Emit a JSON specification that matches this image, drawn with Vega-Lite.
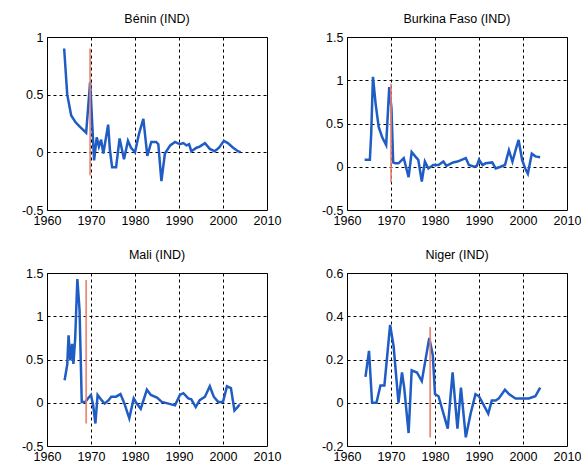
{
  "$schema": "https://vega.github.io/schema/vega-lite/v6.json",
  "background": "white",
  "padding": {"left": 20, "top": 12, "right": 5, "bottom": 5},
  "columns": 2,
  "spacing": {"row": 63, "column": 80},
  "bounds": "flush",
  "datasets": {
    "series": [
      {"country":"BEN","year":1963.9,"value":0.90},{"country":"BEN","year":1964.6,"value":0.50},{"country":"BEN","year":1965.5,"value":0.32},{"country":"BEN","year":1966.5,"value":0.26},{"country":"BEN","year":1967.5,"value":0.22},{"country":"BEN","year":1968.9,"value":0.17},{"country":"BEN","year":1969.8,"value":0.61},{"country":"BEN","year":1970.7,"value":-0.07},{"country":"BEN","year":1971.3,"value":0.13},{"country":"BEN","year":1971.8,"value":0.05},{"country":"BEN","year":1972.3,"value":0.11},{"country":"BEN","year":1972.8,"value":-0.01},{"country":"BEN","year":1973.9,"value":0.24},{"country":"BEN","year":1974.3,"value":0.02},{"country":"BEN","year":1974.8,"value":-0.13},{"country":"BEN","year":1975.7,"value":-0.13},{"country":"BEN","year":1976.5,"value":0.12},{"country":"BEN","year":1977.5,"value":-0.06},{"country":"BEN","year":1978.4,"value":0.10},{"country":"BEN","year":1979.1,"value":0.04},{"country":"BEN","year":1980.0,"value":0.00},{"country":"BEN","year":1980.9,"value":0.16},{"country":"BEN","year":1981.9,"value":0.29},{"country":"BEN","year":1982.8,"value":-0.03},{"country":"BEN","year":1983.7,"value":0.09},{"country":"BEN","year":1984.8,"value":0.09},{"country":"BEN","year":1985.3,"value":0.07},{"country":"BEN","year":1986.0,"value":-0.25},{"country":"BEN","year":1986.8,"value":-0.01},{"country":"BEN","year":1988.0,"value":0.06},{"country":"BEN","year":1989.1,"value":0.09},{"country":"BEN","year":1990.2,"value":0.07},{"country":"BEN","year":1991.0,"value":0.08},{"country":"BEN","year":1991.7,"value":0.06},{"country":"BEN","year":1992.3,"value":0.07},{"country":"BEN","year":1992.8,"value":0.01},{"country":"BEN","year":1994.0,"value":0.04},{"country":"BEN","year":1994.7,"value":0.05},{"country":"BEN","year":1995.9,"value":0.08},{"country":"BEN","year":1997.0,"value":0.03},{"country":"BEN","year":1998.1,"value":0.01},{"country":"BEN","year":1999.1,"value":0.04},{"country":"BEN","year":2000.2,"value":0.10},{"country":"BEN","year":2001.1,"value":0.08},{"country":"BEN","year":2002.3,"value":0.04},{"country":"BEN","year":2003.4,"value":0.01},{"country":"BEN","year":2004.0,"value":0.00},
      {"country":"BFA","year":1964.0,"value":0.08},{"country":"BFA","year":1965.2,"value":0.08},{"country":"BFA","year":1965.5,"value":0.38},{"country":"BFA","year":1965.9,"value":1.04},{"country":"BFA","year":1966.5,"value":0.73},{"country":"BFA","year":1967.2,"value":0.46},{"country":"BFA","year":1968.0,"value":0.34},{"country":"BFA","year":1968.9,"value":0.25},{"country":"BFA","year":1969.6,"value":0.92},{"country":"BFA","year":1970.1,"value":0.68},{"country":"BFA","year":1970.5,"value":0.05},{"country":"BFA","year":1971.0,"value":0.04},{"country":"BFA","year":1971.7,"value":0.04},{"country":"BFA","year":1972.9,"value":0.10},{"country":"BFA","year":1973.6,"value":-0.04},{"country":"BFA","year":1974.0,"value":-0.12},{"country":"BFA","year":1974.7,"value":0.17},{"country":"BFA","year":1975.5,"value":0.12},{"country":"BFA","year":1976.2,"value":0.08},{"country":"BFA","year":1977.0,"value":-0.17},{"country":"BFA","year":1977.7,"value":0.06},{"country":"BFA","year":1978.5,"value":-0.02},{"country":"BFA","year":1979.6,"value":0.02},{"country":"BFA","year":1980.8,"value":0.02},{"country":"BFA","year":1981.9,"value":0.06},{"country":"BFA","year":1982.6,"value":0.01},{"country":"BFA","year":1984.1,"value":0.05},{"country":"BFA","year":1985.1,"value":0.06},{"country":"BFA","year":1987.0,"value":0.10},{"country":"BFA","year":1987.7,"value":0.02},{"country":"BFA","year":1988.9,"value":0.00},{"country":"BFA","year":1989.5,"value":0.01},{"country":"BFA","year":1990.0,"value":0.08},{"country":"BFA","year":1990.8,"value":0.02},{"country":"BFA","year":1991.5,"value":0.04},{"country":"BFA","year":1993.0,"value":0.05},{"country":"BFA","year":1993.8,"value":-0.02},{"country":"BFA","year":1994.9,"value":0.00},{"country":"BFA","year":1995.9,"value":0.02},{"country":"BFA","year":1996.8,"value":0.19},{"country":"BFA","year":1997.6,"value":0.06},{"country":"BFA","year":1998.3,"value":0.19},{"country":"BFA","year":1999.0,"value":0.31},{"country":"BFA","year":1999.8,"value":0.08},{"country":"BFA","year":2000.5,"value":-0.02},{"country":"BFA","year":2001.1,"value":-0.08},{"country":"BFA","year":2002.0,"value":0.15},{"country":"BFA","year":2002.8,"value":0.12},{"country":"BFA","year":2003.9,"value":0.11},
      {"country":"MLI","year":1964.0,"value":0.26},{"country":"MLI","year":1964.6,"value":0.44},{"country":"MLI","year":1964.9,"value":0.78},{"country":"MLI","year":1965.3,"value":0.49},{"country":"MLI","year":1965.7,"value":0.68},{"country":"MLI","year":1966.0,"value":0.45},{"country":"MLI","year":1966.4,"value":0.74},{"country":"MLI","year":1966.9,"value":1.43},{"country":"MLI","year":1967.4,"value":1.07},{"country":"MLI","year":1967.9,"value":0.01},{"country":"MLI","year":1968.7,"value":0.01},{"country":"MLI","year":1969.3,"value":0.05},{"country":"MLI","year":1970.0,"value":0.09},{"country":"MLI","year":1970.5,"value":-0.03},{"country":"MLI","year":1971.0,"value":-0.24},{"country":"MLI","year":1971.5,"value":0.09},{"country":"MLI","year":1972.4,"value":0.03},{"country":"MLI","year":1973.1,"value":-0.01},{"country":"MLI","year":1974.0,"value":0.03},{"country":"MLI","year":1974.6,"value":0.07},{"country":"MLI","year":1975.7,"value":0.07},{"country":"MLI","year":1976.7,"value":0.10},{"country":"MLI","year":1977.6,"value":-0.01},{"country":"MLI","year":1978.7,"value":-0.18},{"country":"MLI","year":1979.7,"value":0.05},{"country":"MLI","year":1980.4,"value":-0.01},{"country":"MLI","year":1981.3,"value":-0.07},{"country":"MLI","year":1982.7,"value":0.15},{"country":"MLI","year":1983.6,"value":0.09},{"country":"MLI","year":1985.0,"value":0.06},{"country":"MLI","year":1986.1,"value":0.01},{"country":"MLI","year":1987.6,"value":-0.01},{"country":"MLI","year":1989.1,"value":-0.03},{"country":"MLI","year":1990.2,"value":0.09},{"country":"MLI","year":1991.0,"value":0.11},{"country":"MLI","year":1992.1,"value":0.05},{"country":"MLI","year":1992.8,"value":0.04},{"country":"MLI","year":1993.8,"value":-0.05},{"country":"MLI","year":1994.7,"value":0.03},{"country":"MLI","year":1995.9,"value":0.07},{"country":"MLI","year":1997.0,"value":0.19},{"country":"MLI","year":1997.9,"value":0.07},{"country":"MLI","year":1998.9,"value":0.01},{"country":"MLI","year":2000.0,"value":0.01},{"country":"MLI","year":2000.9,"value":0.19},{"country":"MLI","year":2001.8,"value":0.17},{"country":"MLI","year":2002.6,"value":-0.09},{"country":"MLI","year":2003.3,"value":-0.05},{"country":"MLI","year":2003.8,"value":-0.02},
      {"country":"NER","year":1964.2,"value":0.12},{"country":"NER","year":1965.0,"value":0.24},{"country":"NER","year":1965.7,"value":0.00},{"country":"NER","year":1966.7,"value":0.00},{"country":"NER","year":1967.6,"value":0.08},{"country":"NER","year":1968.5,"value":0.08},{"country":"NER","year":1969.8,"value":0.36},{"country":"NER","year":1970.6,"value":0.26},{"country":"NER","year":1971.7,"value":0.00},{"country":"NER","year":1972.5,"value":0.14},{"country":"NER","year":1973.0,"value":0.07},{"country":"NER","year":1974.0,"value":-0.14},{"country":"NER","year":1974.7,"value":0.15},{"country":"NER","year":1975.9,"value":0.14},{"country":"NER","year":1977.0,"value":0.10},{"country":"NER","year":1978.7,"value":0.30},{"country":"NER","year":1979.5,"value":0.22},{"country":"NER","year":1980.0,"value":0.04},{"country":"NER","year":1980.8,"value":0.03},{"country":"NER","year":1982.9,"value":-0.12},{"country":"NER","year":1984.0,"value":0.14},{"country":"NER","year":1985.1,"value":-0.12},{"country":"NER","year":1985.9,"value":0.07},{"country":"NER","year":1987.0,"value":-0.16},{"country":"NER","year":1988.1,"value":-0.05},{"country":"NER","year":1989.2,"value":0.04},{"country":"NER","year":1990.0,"value":0.03},{"country":"NER","year":1992.1,"value":-0.05},{"country":"NER","year":1992.9,"value":0.01},{"country":"NER","year":1993.8,"value":0.01},{"country":"NER","year":1994.5,"value":0.02},{"country":"NER","year":1995.9,"value":0.06},{"country":"NER","year":1996.8,"value":0.04},{"country":"NER","year":1998.3,"value":0.02},{"country":"NER","year":1999.8,"value":0.02},{"country":"NER","year":2001.3,"value":0.02},{"country":"NER","year":2002.8,"value":0.03},{"country":"NER","year":2003.9,"value":0.07}
    ],
    "breaks": [
      {"country":"BEN","year":1969.8,"lo":-0.2,"hi":0.9},
      {"country":"BFA","year":1970.0,"lo":-0.18,"hi":0.96},
      {"country":"MLI","year":1968.9,"lo":-0.24,"hi":1.42},
      {"country":"NER","year":1978.9,"lo":-0.16,"hi":0.35}
    ]
  },
  "concat": [
    {
      "title": "Bénin (IND)", "width": 220, "height": 173,
      "layer": [
        {"data": {"name": "series"}, "transform": [{"filter": "datum.country === 'BEN'"}],
         "mark": {"type": "line", "color": "#1f5cc4", "strokeWidth": 2.5},
         "encoding": {
           "x": {"field": "year", "type": "quantitative", "title": null, "scale": {"domain": [1960, 2010], "nice": false, "zero": false}, "axis": {"values": [1960,1970,1980,1990,2000,2010], "format": "d"}},
           "y": {"field": "value", "type": "quantitative", "title": null, "scale": {"domain": [-0.5, 1], "nice": false, "zero": false}, "axis": {"values": [-0.5,0,0.5,1], "labelExpr": "toString(datum.value)"}}}},
        {"data": {"name": "breaks"}, "transform": [{"filter": "datum.country === 'BEN'"}],
         "mark": {"type": "rule", "color": "#e8806c", "strokeWidth": 1.8, "opacity": 0.9},
         "encoding": {"x": {"field": "year", "type": "quantitative", "title": null}, "y": {"field": "lo", "type": "quantitative", "title": null}, "y2": {"field": "hi"}}}
      ]
    },
    {
      "title": "Burkina Faso (IND)", "width": 220, "height": 173,
      "layer": [
        {"data": {"name": "series"}, "transform": [{"filter": "datum.country === 'BFA'"}],
         "mark": {"type": "line", "color": "#1f5cc4", "strokeWidth": 2.5},
         "encoding": {
           "x": {"field": "year", "type": "quantitative", "title": null, "scale": {"domain": [1960, 2010], "nice": false, "zero": false}, "axis": {"values": [1960,1970,1980,1990,2000,2010], "format": "d"}},
           "y": {"field": "value", "type": "quantitative", "title": null, "scale": {"domain": [-0.5, 1.5], "nice": false, "zero": false}, "axis": {"values": [-0.5,0,0.5,1,1.5], "labelExpr": "toString(datum.value)"}}}},
        {"data": {"name": "breaks"}, "transform": [{"filter": "datum.country === 'BFA'"}],
         "mark": {"type": "rule", "color": "#e8806c", "strokeWidth": 1.8, "opacity": 0.9},
         "encoding": {"x": {"field": "year", "type": "quantitative", "title": null}, "y": {"field": "lo", "type": "quantitative", "title": null}, "y2": {"field": "hi"}}}
      ]
    },
    {
      "title": "Mali (IND)", "width": 220, "height": 173,
      "layer": [
        {"data": {"name": "series"}, "transform": [{"filter": "datum.country === 'MLI'"}],
         "mark": {"type": "line", "color": "#1f5cc4", "strokeWidth": 2.5},
         "encoding": {
           "x": {"field": "year", "type": "quantitative", "title": null, "scale": {"domain": [1960, 2010], "nice": false, "zero": false}, "axis": {"values": [1960,1970,1980,1990,2000,2010], "format": "d"}},
           "y": {"field": "value", "type": "quantitative", "title": null, "scale": {"domain": [-0.5, 1.5], "nice": false, "zero": false}, "axis": {"values": [-0.5,0,0.5,1,1.5], "labelExpr": "toString(datum.value)"}}}},
        {"data": {"name": "breaks"}, "transform": [{"filter": "datum.country === 'MLI'"}],
         "mark": {"type": "rule", "color": "#e8806c", "strokeWidth": 1.8, "opacity": 0.9},
         "encoding": {"x": {"field": "year", "type": "quantitative", "title": null}, "y": {"field": "lo", "type": "quantitative", "title": null}, "y2": {"field": "hi"}}}
      ]
    },
    {
      "title": "Niger (IND)", "width": 220, "height": 173,
      "layer": [
        {"data": {"name": "series"}, "transform": [{"filter": "datum.country === 'NER'"}],
         "mark": {"type": "line", "color": "#1f5cc4", "strokeWidth": 2.5},
         "encoding": {
           "x": {"field": "year", "type": "quantitative", "title": null, "scale": {"domain": [1960, 2010], "nice": false, "zero": false}, "axis": {"values": [1960,1970,1980,1990,2000,2010], "format": "d"}},
           "y": {"field": "value", "type": "quantitative", "title": null, "scale": {"domain": [-0.2, 0.6], "nice": false, "zero": false}, "axis": {"values": [-0.2,0,0.2,0.4,0.6], "labelExpr": "toString(datum.value)"}}}},
        {"data": {"name": "breaks"}, "transform": [{"filter": "datum.country === 'NER'"}],
         "mark": {"type": "rule", "color": "#e8806c", "strokeWidth": 1.8, "opacity": 0.9},
         "encoding": {"x": {"field": "year", "type": "quantitative", "title": null}, "y": {"field": "lo", "type": "quantitative", "title": null}, "y2": {"field": "hi"}}}
      ]
    }
  ],
  "config": {
    "view": {"stroke": "#000000", "strokeWidth": 1},
    "axis": {"labelFont": "Liberation Sans", "labelFontSize": 12.5, "labelColor": "#000000", "ticks": false, "domain": false, "grid": true, "gridColor": "#000000", "gridDash": [3, 3], "gridWidth": 1, "gridOpacity": 1, "labelFlush": false, "labelPadding": 4, "labelOverlap": false},
    "title": {"font": "Liberation Sans", "fontSize": 12.5, "fontWeight": "normal", "color": "#000000", "offset": 6, "anchor": "middle"}
  }
}
